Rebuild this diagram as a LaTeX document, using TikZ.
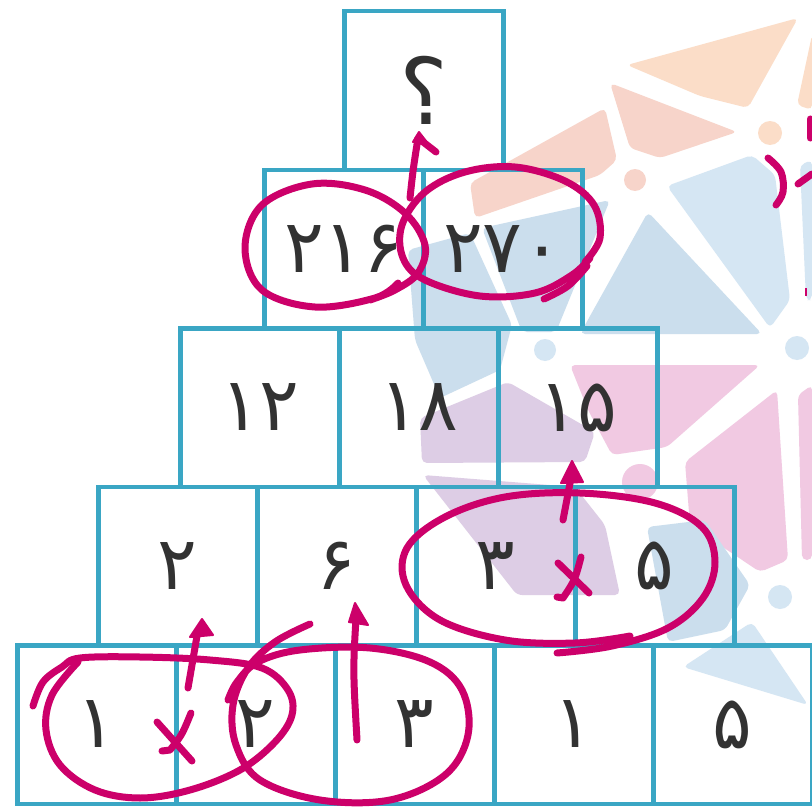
\documentclass[tikz,border=0pt]{standalone}
\usepackage{fontspec}
\newfontfamily\fadigits{DejaVu Sans}
\definecolor{boxc}{RGB}{58,166,196}
\definecolor{mag}{RGB}{204,0,106}
\definecolor{ink}{RGB}{50,50,50}
\definecolor{wpeach}{RGB}{251,221,200}
\definecolor{wsalmon}{RGB}{247,212,202}
\definecolor{wblue}{RGB}{213,230,243}
\definecolor{wblueb}{RGB}{203,222,237}
\definecolor{wpurple}{RGB}{221,205,229}
\definecolor{wpink}{RGB}{241,201,226}
\begin{document}
\begin{tikzpicture}[x=1pt,y=-1pt,
  cell/.style={draw=boxc, line width=4.5pt, minimum width=159pt, minimum height=158.5pt,
    inner sep=0pt, anchor=north west, font=\fadigits\fontsize{74}{74}\selectfont, text=ink},
  qmark/.style={font=\fadigits\fontsize{92}{92}\selectfont},
  pen/.style={draw=mag, line width=7pt, line cap=round, line join=round},
  penhead/.style={fill=mag, draw=mag, line width=2pt, line join=round},
  wm/.style={rounded corners=5pt}]
\fill[white] (0,0) rectangle (812,808);
\useasboundingbox (0,0) rectangle (812,808);
% ---------- watermark ----------
\fill[wpeach,wm]  (627,65) -- (798,18) -- (748,108) -- (700,96) -- cycle;
\fill[wsalmon,wm] (610,83) -- (737,132) -- (660,158) -- (630,148) -- cycle;
\fill[wsalmon,wm] (470,183) -- (605,108) -- (617,160) -- (600,175) -- (475,218) -- cycle;
\fill[wpeach,wm]  (797,105) -- (812,35) -- (812,110) -- cycle;
\fill[wblue,wm]   (667,186) -- (752,155) -- (775,175) -- (790,300) -- (770,328) -- cycle;
\fill[wblue,wm]   (800,165) -- (812,160) -- (812,300) -- (806,300) -- cycle;
\fill[wblueb,wm]  (648,212) -- (580,334) -- (762,334) -- cycle;
\fill[wblueb,wm]  (482,228) -- (610,200) -- (556,332) -- (522,332) -- cycle;
\fill[wblueb,wm]  (408,250) -- (470,233) -- (512,325) -- (500,370) -- (440,398) -- (415,340) -- cycle;
\fill[wpurple,wm] (420,418) -- (508,382) -- (595,432) -- (585,462) -- (422,463) -- cycle;
\fill[wpink,wm]   (570,365) -- (760,365) -- (667,447) -- (612,455) -- (588,410) -- cycle;
\fill[wpink,wm]   (685,462) -- (777,390) -- (788,560) -- (760,572) -- (690,525) -- cycle;
\fill[wpink,wm]   (798,395) -- (812,385) -- (812,560) -- (802,560) -- cycle;
\fill[wpurple,wm] (423,475) -- (575,487) -- (605,525) -- (620,595) -- (517,595) -- cycle;
\fill[wblueb,wm]  (647,527) -- (705,520) -- (750,585) -- (725,630) -- (668,642) -- cycle;
\fill[wblue,wm]   (683,667) -- (752,622) -- (808,705) -- cycle;
\fill[wsalmon] (635,180) circle (11);
\fill[wpeach]  (770,133) circle (12);
\fill[wblue]   (545,350) circle (11);
\fill[wblue]   (797,348) circle (12);
\fill[wblue]   (780,597) circle (12);
\fill[wpink]   (640,482) circle (18);
% ---------- pyramid ----------
\node[cell,qmark] (a1) at (342,9) {؟};
\node[cell] (b1) at (262,167.5) {۲۱۶};
\node[cell] (b2) at (421,167.5) {۲۷۰};
\node[cell] (c1) at (178,326) {۱۲};
\node[cell] (c2) at (337,326) {۱۸};
\node[cell] (c3) at (496,326) {۱۵};
\node[cell] (d1) at (96,484.5) {۲};
\node[cell] (d2) at (255,484.5) {۶};
\node[cell] (d3) at (414,484.5) {۳};
\node[cell] (d4) at (573,484.5) {۵};
\node[cell] (e1) at (15,643) {۱};
\node[cell] (e2) at (174,643) {۲};
\node[cell] (e3) at (333,643) {۳};
\node[cell] (e4) at (492,643) {۱};
\node[cell] (e5) at (651,643) {۵};
% ---------- hand annotations ----------
% loop round 216
\draw[pen] plot[smooth, tension=0.6] coordinates {(398,283) (375,298) (315,307) (262,290) (245,248) (262,205) (312,184) (365,190) (405,213) (425,245) (418,273) (395,290) (370,300)};
% loop round 270
\draw[pen] plot[smooth, tension=0.6] coordinates {(585,262) (600,238) (594,205) (565,181) (515,167) (465,172) (425,192) (402,225) (403,258) (425,280) (480,296) (535,293) (572,275) (590,258)};
\draw[pen] plot[smooth, tension=0.6] coordinates {(587,266) (568,286) (544,299)};
% arrow to the question mark
\draw[pen] (410,198) .. controls (413,170) .. (418,138) -- (436,152);
\fill[penhead] (413,142) -- (419,132) -- (426,141) -- cycle;
% loop round 3 x 5
\draw[pen] plot[smooth, tension=0.6] coordinates {(557,653) (612,646) (668,628) (703,598) (715,562) (702,527) (655,503) (580,493) (505,497) (445,517) (407,548) (406,585) (440,620) (505,640) (575,643) (630,636)};
\draw[pen] (558,563) -- (589,593);
\draw[pen] (581,557) .. controls (575,580) .. (563,598) -- (557,597);
\draw[pen] (563,520) -- (571,478);
\fill[penhead] (561,483) -- (572,461) -- (583,482) -- cycle;
% loop round 1 x 2
\draw[pen] plot[smooth, tension=0.6] coordinates {(33,706) (43,682) (62,667) (80,658) (140,657) (210,660) (262,668) (288,690) (292,715) (275,742) (240,770) (190,790) (140,798) (95,790) (60,765) (46,730) (52,695) (78,662)};
\draw[pen] (157,722) -- (192,761);
\draw[pen] (191,713) .. controls (182,735) .. (170,750) -- (162,751);
\draw[pen] (188,688) -- (197,636);
\fill[penhead] (190,637) -- (202,619) -- (213,635) -- cycle;
% loop round 2 3
\draw[pen] plot[smooth, tension=0.6] coordinates {(310,624) (275,642) (248,668) (233,705) (236,745) (260,780) (320,800) (390,800) (445,775) (468,735) (462,690) (430,662) (370,648) (300,650) (258,662) (237,682) (228,700)};
\draw[pen] (357,740) .. controls (353,670) .. (356,618);
\fill[penhead] (349,622) -- (355,603) -- (368,625) -- cycle;
% cut-off handwriting at the right edge
\draw[pen] plot[smooth, tension=0.6] coordinates {(768,158) (781,172) (783,192) (776,205)};
\draw[pen] (798,184) -- (812,174);
\draw[pen] (810,119) -- (810,138);
\draw[draw=mag, line width=2pt] (806,288) -- (806,296);
\end{tikzpicture}
\end{document}
